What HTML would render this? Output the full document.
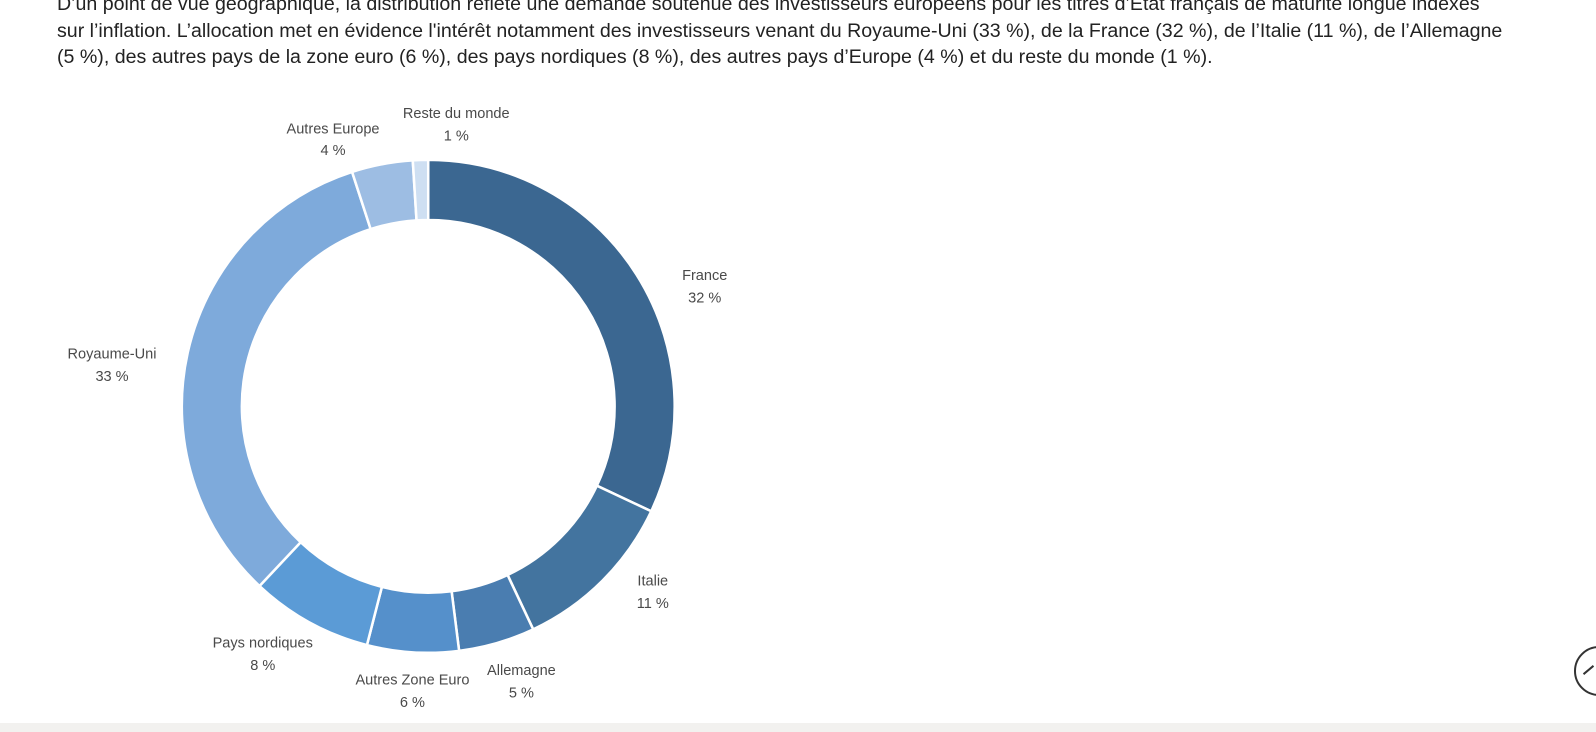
<!DOCTYPE html>
<html><head><meta charset="utf-8"><style>
body{margin:0;width:1596px;height:732px;background:#fff;overflow:hidden;position:relative;font-family:"Liberation Sans Narrow","Liberation Sans",sans-serif;}
.p{position:absolute;left:57px;top:-9px;width:1530px;font-size:19.6px;line-height:26.5px;color:#222;white-space:nowrap}
.band{position:absolute;left:0;top:723px;width:1596px;height:9px;background:#f2f1ef;}
.btn{position:absolute;left:1574px;top:646px;width:50px;height:50px;border:2px solid #333;border-radius:50%;box-sizing:border-box;}
svg{position:absolute;left:0;top:0}
svg text{font-family:"Liberation Sans",sans-serif;font-size:14.3px;fill:#4a4a4a;text-anchor:middle}
</style></head><body>
<div class="p">D’un point de vue géographique, la distribution reflète une demande soutenue des investisseurs européens pour les titres d’État français de maturité longue indexés<br>sur l’inflation. L’allocation met en évidence l'intérêt notamment des investisseurs venant du Royaume-Uni (33 %), de la France (32 %), de l’Italie (11 %), de l’Allemagne<br>(5 %), des autres pays de la zone euro (6 %), des pays nordiques (8 %), des autres pays d’Europe (4 %) et du reste du monde (1 %).</div>
<svg width="1596" height="732"><g id="s" transform="scale(1.0184)">
<text x="692" y="275">France</text><text x="692" y="297">32 %</text>
<text x="641" y="575">Italie</text><text x="641" y="597">11 %</text>
<text x="512" y="663">Allemagne</text><text x="512" y="685">5 %</text>
<text x="405" y="672">Autres Zone Euro</text><text x="405" y="694">6 %</text>
<text x="258" y="636">Pays nordiques</text><text x="258" y="658">8 %</text>
<text x="110" y="352">Royaume-Uni</text><text x="110" y="374">33 %</text>
<text x="327" y="131">Autres Europe</text><text x="327" y="152">4 %</text>
<text x="448" y="116">Reste du monde</text><text x="448" y="138">1 %</text>
</g></svg>
<div class="btn"><div style="position:absolute;left:6px;top:21px;width:13px;height:2px;background:#333;transform:rotate(-40deg)"></div></div>
<div class="band"></div>
<script>
var d=[[32,"#3b6791"],[11,"#43749f"],[5,"#4a7db0"],[6,"#5590cb"],[8,"#5b9bd6"],[33,"#7eaadb"],[4,"#9dbde3"],[1,"#cedff2"]];
var cx=420.5,cy=399,R=242,r=183,a=0,s=document.getElementById('s'),h='';
function pt(rad,ang){return (cx+rad*Math.sin(ang)).toFixed(2)+','+(cy-rad*Math.cos(ang)).toFixed(2);}
d.forEach(function(e){var a0=a*Math.PI/50,a1=(a+e[0])*Math.PI/50,l=e[0]>50?1:0;
h+='<path d="M'+pt(R,a0)+' A'+R+','+R+' 0 '+l+' 1 '+pt(R,a1)+' L'+pt(r,a1)+' A'+r+','+r+' 0 '+l+' 0 '+pt(r,a0)+' Z" fill="'+e[1]+'" stroke="#fff" stroke-width="2.5"/>';a+=e[0];});
s.insertAdjacentHTML('afterbegin',h);
</script>
</body></html>
